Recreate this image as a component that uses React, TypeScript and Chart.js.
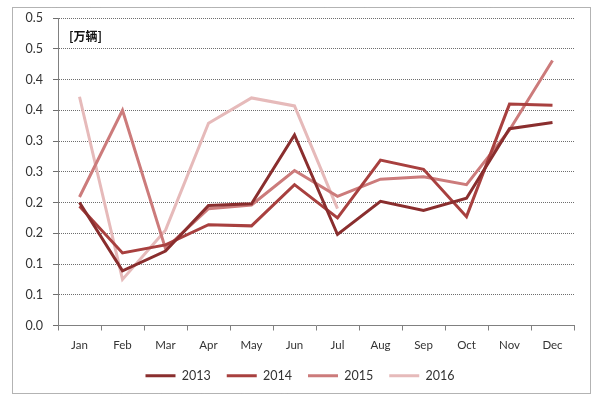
import React, { useEffect, useRef } from "react";
import { Chart, registerables } from "chart.js";

Chart.register(...registerables);

const months = ["Jan", "Feb", "Mar", "Apr", "May", "Jun", "Jul", "Aug", "Sep", "Oct", "Nov", "Dec"];
const seriesNames = ["2013", "2014", "2015", "2016"];
const s2013 = [0.2, 0.089, 0.121, 0.195, 0.198, 0.31, 0.148, 0.202, 0.187, 0.207, 0.32, 0.33];
const s2014 = [0.194, 0.118, 0.131, 0.164, 0.162, 0.229, 0.175, 0.269, 0.254, 0.177, 0.36, 0.358];
const s2015 = [0.209, 0.35, 0.125, 0.19, 0.196, 0.252, 0.21, 0.238, 0.242, 0.229, 0.318, 0.431];
const s2016 = [0.372, 0.075, 0.155, 0.329, 0.37, 0.357, 0.19, null, null, null, null, null];
const unitLabel = "[万辆]";

const colors = ["#8A2E2E", "#A8403F", "#CC7B7B", "#E6BABA"];
const FONT = "Lato, 'Liberation Sans', sans-serif";

const framePlugin = {
  id: "frame",
  beforeDraw(chart: any) {
    const ctx = chart.ctx;
    ctx.save();
    ctx.fillStyle = "#ffffff";
    ctx.fillRect(0, 0, chart.width, chart.height);
    ctx.strokeStyle = "#666";
    ctx.lineWidth = 1;
    ctx.setLineDash([1, 1]);
    ctx.strokeRect(12.5, 7.5, 578, 386);
    ctx.restore();
  },
  afterDraw(chart: any) {
    const ctx = chart.ctx;
    const area = chart.chartArea;
    ctx.save();
    ctx.fillStyle = "#111";
    ctx.font = "bold 12px 'Noto Sans CJK SC', sans-serif";
    ctx.textBaseline = "middle";
    ctx.fillText(unitLabel, area.left + 11, area.top + 18);
    ctx.restore();
  },
};

export default function App() {
  const ref = useRef<HTMLCanvasElement>(null);
  useEffect(() => {
    if (!ref.current) return;
    const all = [s2013, s2014, s2015, s2016];
    const chart = new Chart(ref.current, {
      type: "line",
      data: {
        labels: months,
        datasets: all.map((d, i) => ({
          label: seriesNames[i],
          data: d,
          borderColor: colors[i],
          backgroundColor: colors[i],
          borderWidth: 3,
          pointRadius: 0,
          tension: 0,
          spanGaps: false,
        })),
      },
      options: {
        animation: false,
        responsive: true,
        maintainAspectRatio: false,
        layout: { padding: { top: 18, right: 13, left: 13, bottom: 12 } },
        plugins: {
          legend: {
            position: "bottom",
            labels: {
              usePointStyle: true,
              pointStyle: "line",
              pointStyleWidth: 30,
              boxHeight: 11,
              padding: 16,
              color: "#333",
              font: { family: FONT, size: 12.5 },
            },
          },
          tooltip: { enabled: false },
        },
        scales: {
          x: {
            offset: true,
            grid: { offset: true, drawOnChartArea: false, drawTicks: true, tickLength: 5, color: "#808080" },
            border: { color: "#808080" },
            ticks: { color: "#333", padding: 8, font: { family: FONT, size: 11.5 }, maxRotation: 0 },
            afterFit: (s: any) => { s.height = 28; },
          },
          y: {
            min: 0,
            max: 0.5,
            ticks: {
              stepSize: 0.05,
              color: "#333",
              padding: 10,
              font: { family: FONT, size: 12.5 },
              callback: (v: any) => (Math.round(Number(v) * 10 + 1e-6) / 10).toFixed(1),
            },
            grid: { color: "#6e6e6e", tickLength: 5, drawTicks: true },
            border: { color: "#808080", dash: [1, 1] },
            afterFit: (s: any) => { s.width = 45; },
          },
          yRight: {
            position: "right",
            display: true,
            min: 0,
            max: 0.5,
            ticks: { display: false },
            grid: { display: false, drawTicks: false },
            border: { display: false },
            afterFit: (s: any) => { s.width = 13; },
          },
        },
      },
      plugins: [framePlugin],
    });
    return () => chart.destroy();
  }, []);
  return (
    <div style={{ position: "absolute", left: 0, top: 0, width: 600, height: 404, background: "#fff" }}>
      <canvas ref={ref} />
    </div>
  );
}
